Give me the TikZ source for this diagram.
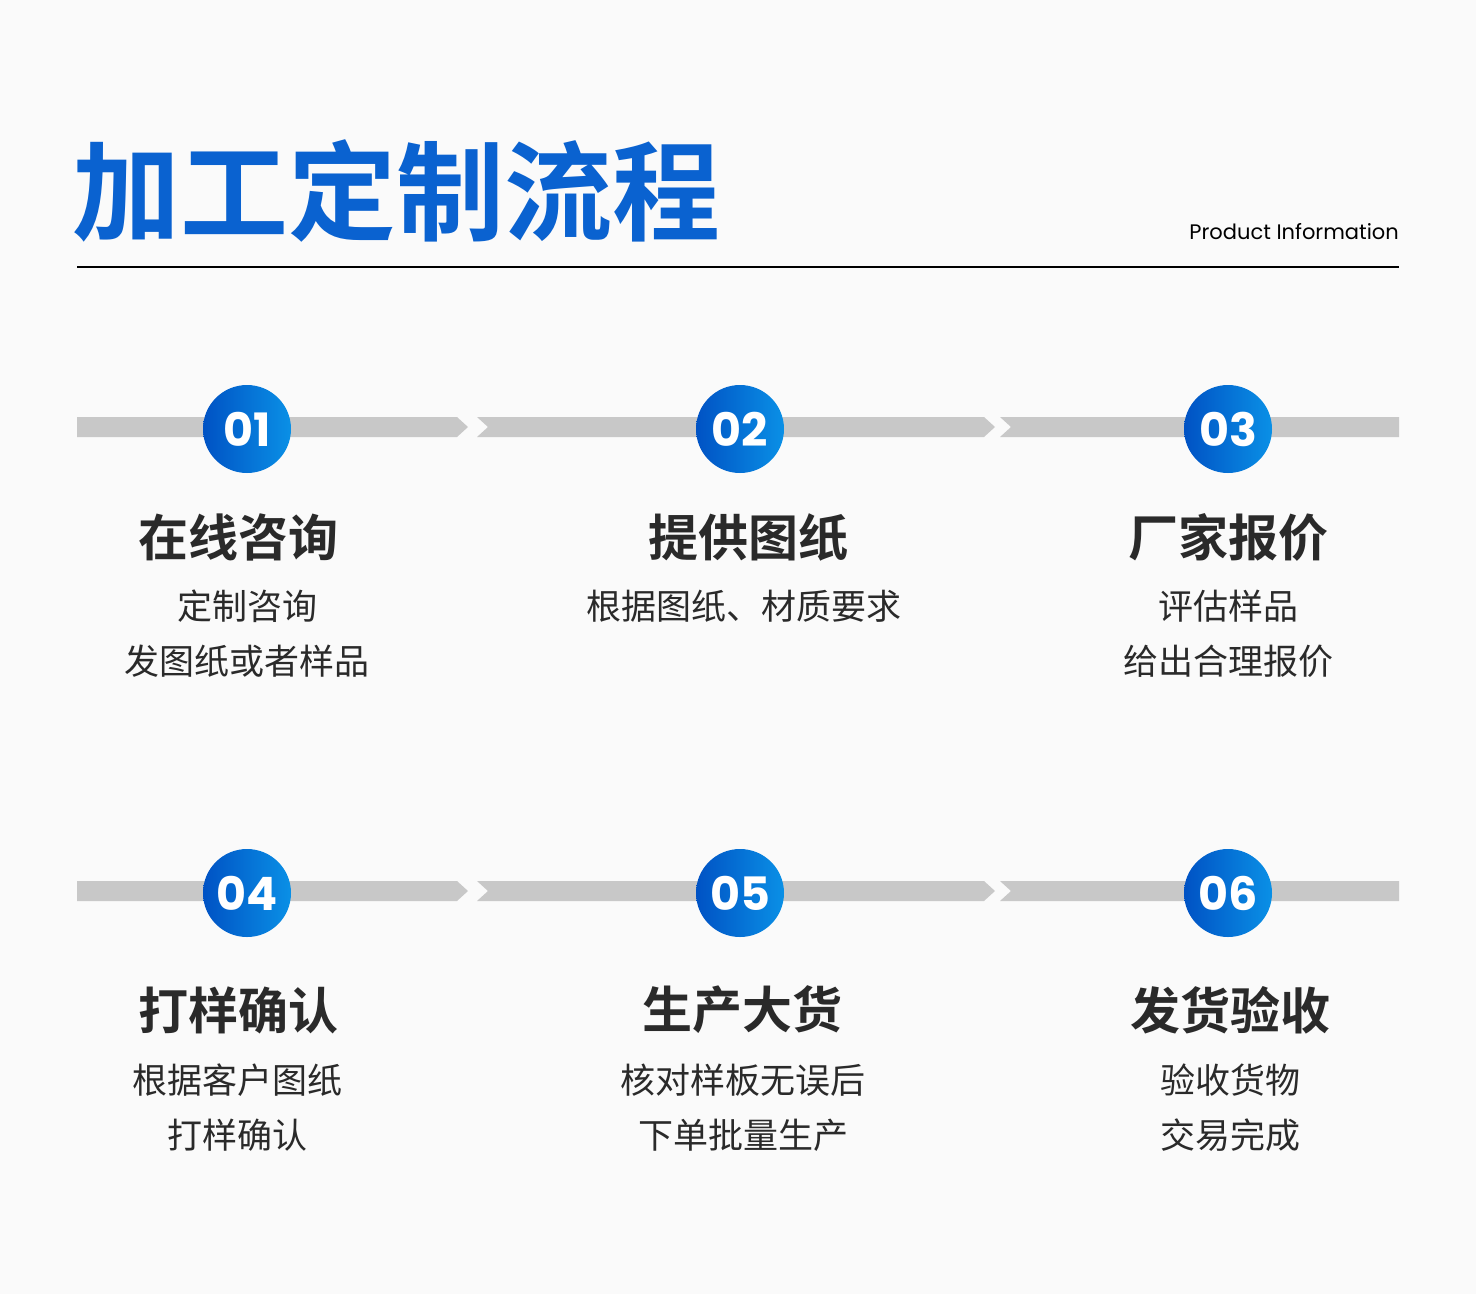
\documentclass[tikz,border=0pt]{standalone}
\usepackage{fontspec}
\newfontfamily\cjk{Noto Sans CJK SC}[BoldFont={Noto Sans CJK SC Bold}]
\setsansfont{Poppins}
\usetikzlibrary{shadings}
\definecolor{bg}{HTML}{FAFAFA}
\definecolor{bar}{HTML}{C8C8C8}
\definecolor{tblue}{HTML}{0A62D0}
\definecolor{bdark}{HTML}{0052C4}
\definecolor{blight}{HTML}{0A90E6}
\definecolor{txt}{HTML}{2A2A2A}
\begin{document}
\begin{tikzpicture}[x=1pt,y=-1pt,
  num/.style={circle,minimum size=88pt,inner sep=0pt,left color=bdark,right color=blight,text=white,font=\sffamily\fontsize{46}{46}\selectfont\bfseries},
  head/.style={font=\cjk\bfseries\fontsize{50}{50}\selectfont,text=txt,inner sep=0pt},
  sub/.style={font=\cjk\fontsize{35}{55}\selectfont,text=txt,align=center,inner sep=0pt}]
\fill[bg] (0,0) rectangle (1476,1294);
\useasboundingbox (0,0) rectangle (1476,1294);
\node[font=\cjk\bfseries\fontsize{108}{108}\selectfont,text=tblue,anchor=west,inner sep=0pt] (title) at (72,191) {加工定制流程};
\node[font=\sffamily\fontsize{21}{21}\selectfont,anchor=east,inner sep=0pt] (pi) at (1399,232) {Product Information};
\coordinate (l1) at (77,267); \coordinate (l2) at (1399,267);
\draw[line width=2pt] (l1) -- (l2);
\foreach \y/\r in {427/1,891/2}{
  \fill[bar] (77,\y-10) -- (457,\y-10) -- (468,\y) -- (457,\y+10) -- (77,\y+10) -- cycle;
  \fill[bar] (477,\y-10) -- (984,\y-10) -- (995,\y) -- (984,\y+10) -- (477,\y+10) -- (488,\y) -- cycle;
  \fill[bar] (1000,\y-10) -- (1399,\y-10) -- (1399,\y+10) -- (1000,\y+10) -- (1011,\y) -- cycle;
}
\node[num] (n1) at (247,429) {01};
\node[num] (n2) at (740,429) {02};
\node[num] (n3) at (1228,429) {03};
\node[num] (n4) at (247,893) {04};
\node[num] (n5) at (740,893) {05};
\node[num] (n6) at (1228,893) {06};
\node[head] (h1) at (238,537) {在线咨询};
\node[head] (h2) at (748,537) {提供图纸};
\node[head] (h3) at (1228,537) {厂家报价};
\node[head] (h4) at (238,1010) {打样确认};
\node[head] (h5) at (742,1010) {生产大货};
\node[head] (h6) at (1230,1010) {发货验收};
\node[sub,anchor=north] (s1) at (247,590) {定制咨询\\发图纸或者样品};
\node[sub,anchor=north] (s2) at (744,590) {根据图纸、材质要求};
\node[sub,anchor=north] (s3) at (1228,590) {评估样品\\给出合理报价};
\node[sub,anchor=north] (s4) at (237,1064) {根据客户图纸\\打样确认};
\node[sub,anchor=north] (s5) at (743,1064) {核对样板无误后\\下单批量生产};
\node[sub,anchor=north] (s6) at (1230,1064) {验收货物\\交易完成};
\end{tikzpicture}
\end{document}
